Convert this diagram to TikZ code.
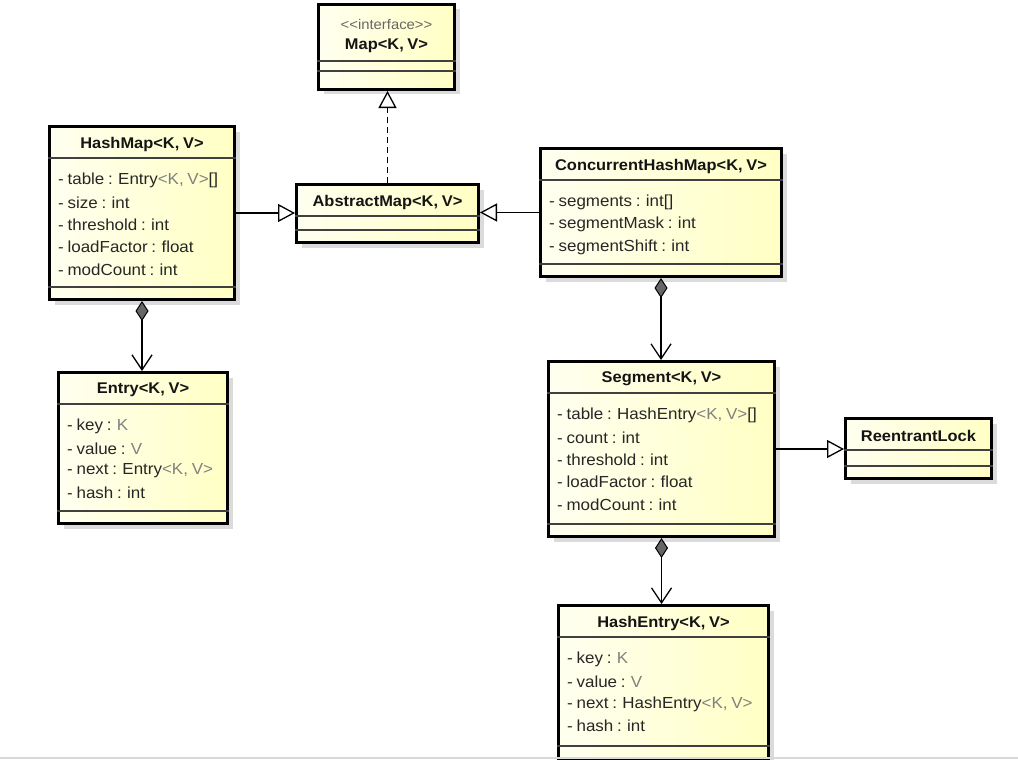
\documentclass[tikz,border=0pt]{standalone}
\usepackage{fontspec}
\setmainfont{Liberation Sans}[FakeStretch=1.06,WordSpace=0.8]
\usetikzlibrary{arrows.meta,shadows}

\definecolor{umlfillA}{RGB}{255,255,240}
\definecolor{umlfillB}{RGB}{255,255,196}

\tikzset{classbox/.style={draw,rectangle,line width=3pt,left color=umlfillA,right color=umlfillB,
                          anchor=north west,inner sep=0pt,
                          drop shadow={shadow xshift=5pt,shadow yshift=-5pt,fill=black!14,opacity=1}}}
\tikzset{classname/.style={font=\fontsize{15.5}{18}\selectfont\bfseries,text=black!92}}
\tikzset{attr/.style={font=\fontsize{16}{19}\selectfont,text=black!85,anchor=west,inner sep=0pt}}
\tikzset{sepline/.style={line width=1.3pt,draw=black!75}}
\tikzset{inherit/.style={line width=1.3pt,-{Triangle[length=17pt,width=18pt,fill=white,line width=1.3pt]}}}
\tikzset{realize/.style={inherit,dash pattern=on 6pt off 4pt}}
\tikzset{compose/.style={line width=1.3pt,
                         {Diamond[length=20pt,width=13pt,fill=black!60,line width=1pt]}-{Straight Barb[length=15pt,width=20pt,line width=1.3pt]}}}
\newcommand{\tp}[1]{\textcolor{black!50}{#1}}
\newcommand{\umlclass}[5]{% name, corner, width, height, title
  \node[classbox,minimum width=#3,minimum height=#4] (#1) at #2 {};
  \node[classname] (#1-name) at ([yshift=-19pt]#1.north) {#5};
  \draw[sepline] ([yshift=-33pt]#1.north west) -- ([yshift=-33pt]#1.north east);
  \draw[sepline] ([yshift=14pt]#1.south west) -- ([yshift=14pt]#1.south east);
}
\newcommand{\umlattrs}[2]{%
  \foreach \a [count=\i] in {#2}{%
    \node[attr] (#1-a\i) at ([xshift=10pt,yshift={-(33pt+\i*22.3pt)}]#1.north west) {\a};
  }}

\begin{document}
\begin{tikzpicture}[x=1pt,y=-1pt]
        \useasboundingbox (0,0) rectangle (1018,760);
        % the interface
        \node[classbox,minimum width=136,minimum height=85] (map) at (317,3) {};
        \node[font=\fontsize{14}{16}\selectfont,text=black!60] (map-stereo) at ([yshift=-21pt]map.north)
             {<\kern0pt<interface>\kern0pt>};
        \node[classname] (map-name) at ([yshift=-43pt]map.north) {Map<K, V>};
        \draw[sepline] ([yshift=-58pt]map.north west) -- ([yshift=-58pt]map.north east);
        \draw[sepline] ([yshift=-68pt]map.north west) -- ([yshift=-68pt]map.north east);
        % classes
        \umlclass{abstractmap}{(295,183)}{182}{58}{AbstractMap<K, V>}
        \umlclass{hashmap}{(48,125)}{185}{173}{HashMap<K, V>}
        \umlattrs{hashmap}{{- table : Entry\tp{<K, V>}[]},{- size : int},{- threshold : int},
                           {- loadFactor : float},{- modCount : int}}
        \umlclass{entry}{(57,371)}{169}{151}{Entry<K, V>}
        \umlattrs{entry}{{- key : \tp{K}},{- value : \tp{V}},{- next : Entry\tp{<K, V>}},{- hash : int}}
        \umlclass{concmap}{(539,147)}{241}{128}{ConcurrentHashMap<K, V>}
        \umlattrs{concmap}{{- segments : int[]},{- segmentMask : int},{- segmentShift : int}}
        \umlclass{segment}{(547,360)}{226}{175}{Segment<K, V>}
        \umlattrs{segment}{{- table : HashEntry\tp{<K, V>}[]},{- count : int},{- threshold : int},
                           {- loadFactor : float},{- modCount : int}}
        \umlclass{lock}{(844,417)}{146}{60}{ReentrantLock}
        \umlclass{hashentry}{(557,604)}{210}{153}{HashEntry<K, V>}
        \umlattrs{hashentry}{{- key : \tp{K}},{- value : \tp{V}},{- next : HashEntry\tp{<K, V>}},{- hash : int}}
        % relations
        \draw[realize] (abstractmap.north) -- (abstractmap.north |- map.south);
        \draw[inherit] (hashmap.east) -- (hashmap.east -| abstractmap.west);
        \draw[inherit] (concmap.west) -- (concmap.west -| abstractmap.east);
        \draw[inherit] (segment.east) -- (segment.east -| lock.west);
        \draw[compose] (hashmap.south) -- (hashmap.south |- entry.north);
        \draw[compose] (concmap.south) -- (concmap.south |- segment.north);
        \draw[compose] (segment.south) -- (segment.south |- hashentry.north);
        % window edge
        \draw[black!15,line width=1.5pt] (0,758) -- (1018,758);
    \end{tikzpicture}
\end{document}
